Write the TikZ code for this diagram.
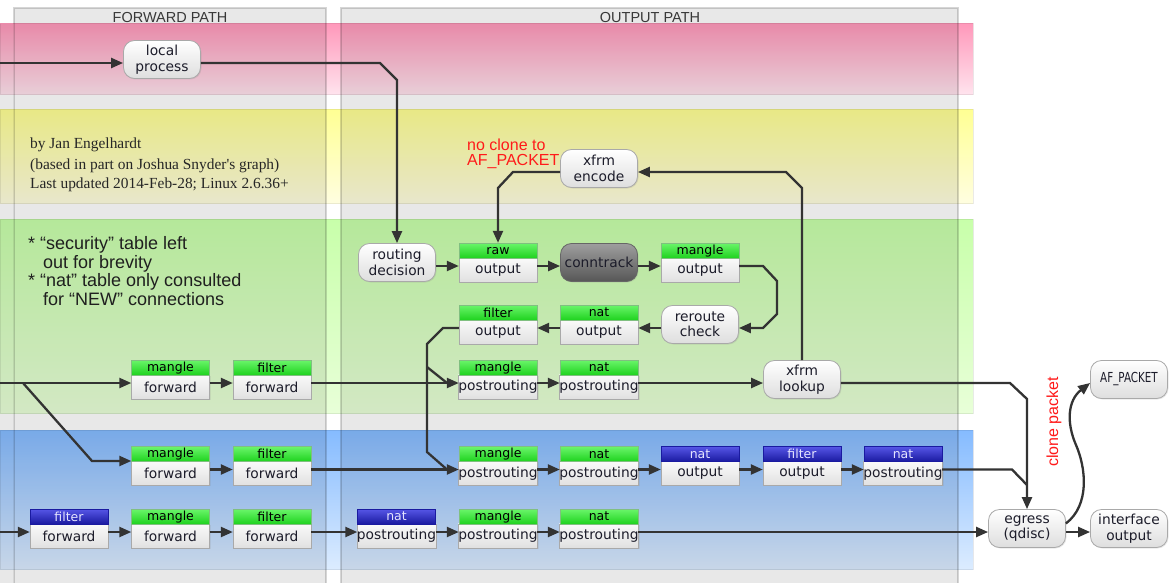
\documentclass[tikz,border=0pt]{standalone}
\usepackage{fontspec}
\usepackage{graphicx}
\setmainfont{DejaVu Sans}
\newfontfamily\notesans{Liberation Sans}
\newfontfamily\noteserif{Liberation Serif}
\usetikzlibrary{arrows.meta,shadows}
\pgfdeclarelayer{bands}
\pgfsetlayers{bands,main}

\definecolor{wire}{HTML}{333333}
\definecolor{ink}{HTML}{1C1C2A}
\definecolor{boxline}{HTML}{A9A9A9}
\definecolor{gtop}{HTML}{6AF56A}
\definecolor{gbot}{HTML}{1ED21E}
\definecolor{btop}{HTML}{5656E6}
\definecolor{bbot}{HTML}{1A1AA0}
\definecolor{notered}{HTML}{FF1A1A}
\definecolor{pinktop}{HTML}{FF99BB}
\definecolor{pinkbot}{HTML}{FFE4EE}
\definecolor{yeltop}{HTML}{FFFF94}
\definecolor{yelbot}{HTML}{FFFEE0}
\definecolor{grntop}{HTML}{C8FFAA}
\definecolor{grnbot}{HTML}{E8FFD8}
\definecolor{blutop}{HTML}{85BBFF}
\definecolor{blubot}{HTML}{DCECFF}

\tikzset{
  proc/.style={rounded corners=11pt, minimum width=77pt, minimum height=38pt,
    inner sep=0pt, align=center, top color=white, bottom color=black!13,
    draw=boxline, line width=0.8pt, text=ink,
    font=\fontsize{13.8}{15.5}\selectfont,
    drop shadow={shadow xshift=1pt, shadow yshift=-1pt, opacity=0.18}},
  darkproc/.style={proc, top color=black!38, bottom color=black!66, draw=black!60},
  hookframe/.style={minimum width=78pt, minimum height=39pt, inner sep=0pt, draw=none},
  hookhead/.style={minimum width=78pt, minimum height=15pt, inner sep=0pt,
    font=\fontsize{12.5}{13}\selectfont, line width=0.6pt},
  greenhead/.style={hookhead, top color=gtop, bottom color=gbot,
    draw=green!50!black!50, text=black},
  bluehead/.style={hookhead, top color=btop, bottom color=bbot,
    draw=bbot, text=white!90!blue},
  hookbody/.style={minimum width=78pt, minimum height=24pt, inner sep=0pt,
    top color=white!98!black, bottom color=black!12, draw=boxline,
    line width=0.6pt, text=ink, font=\fontsize{13.8}{15}\selectfont,
    drop shadow={shadow xshift=1pt, shadow yshift=-1pt, opacity=0.15}},
  flow/.style={draw=wire, line width=2.3pt, -{Triangle[length=12pt,width=10pt]}},
  wireline/.style={draw=wire, line width=2.3pt},
  ln/.style={yshift=-3.5pt},
  colbox/.style={fill=black, fill opacity=0.09, draw=black, draw opacity=0.16, line width=1.5pt},
  bandbox/.style={draw=black, draw opacity=0.08, line width=1pt},
  colhead/.style={font=\notesans\fontsize{14.5}{16}\selectfont, text=black!78, anchor=base},
  notetext/.style={font=\notesans\fontsize{18}{19}\selectfont, text=black!88, anchor=base west, inner sep=0pt},
  credit/.style={font=\noteserif\fontsize{15.4}{17}\selectfont, text=black!85, anchor=base west, inner sep=0pt},
  redtext/.style={font=\notesans\fontsize{16}{16}\selectfont, text=notered, inner sep=0pt},
}

% table/chain hook: name, x, y of the wire, table, chain, header style
\newcommand\hooknode[6]{%
  \node[hookframe] (#1) at (#2,#3-3.5) {};
  \node[hookbody, anchor=south] (#1-body) at (#1.south) {#5};
  \node[#6, anchor=north] (#1-head) at (#1.north) {#4};
}

\begin{document}
\begin{tikzpicture}[x=1pt,y=-1pt]
\useasboundingbox (0,0) rectangle (1172,583);

\begin{pgfonlayer}{bands}
  \fill[white] (0,0) rectangle (1172,583);
  % horizontal bands
  \path[bandbox, top color=pinktop, bottom color=pinkbot] (0,24) rectangle (973,95);
  \path[bandbox, top color=yeltop, bottom color=yelbot] (0,110) rectangle (973,203);
  \path[bandbox, top color=grntop, bottom color=grnbot] (0,219) rectangle (973,413);
  \path[bandbox, top color=blutop, bottom color=blubot] (0,430) rectangle (973,569);
  % vertical path columns
  \fill[black, fill opacity=0.09] (-20,24) rectangle (13.25,600);
  \path[colbox] (14,8) rectangle (326,600);
  \path[colbox] (341,8) rectangle (958,600);
\end{pgfonlayer}

\node[colhead] (fwdtitle) at (170,23) {FORWARD PATH};
\node[colhead] (outtitle) at (650,23) {OUTPUT PATH};

% credits
\node[credit] (cred1) at (30,149) {by Jan Engelhardt};
\node[credit] (cred2) at (30,169) {(based in part on Joshua Snyder's graph)};
\node[credit] (cred3) at (30,188) {Last updated 2014-Feb-28; Linux 2.6.36+};

% notes
\node[notetext] (note1) at (28,249) {* “security” table left};
\node[notetext] (note2) at (43,268) {out for brevity};
\node[notetext] (note3) at (28,286.5) {* “nat” table only consulted};
\node[notetext] (note4) at (43,305) {for “NEW” connections};

\node[redtext, anchor=base west] (noclone1) at (467,150) {no clone to};
\node[redtext, anchor=base west] (noclone2) at (467,165) {AF\_PACKET};
\node[redtext, rotate=90] (clonelbl) at (1054,422) {clone packet};

% processing steps
\node[proc] (lp) at (162,59.5) {local\\process};
\node[proc] (rd) at (397,262.5) {routing\\decision};
\node[proc] (xe) at (599,168.5) {xfrm\\encode};
\node[darkproc] (ct) at (599,262.5) {conntrack};
\node[proc] (rc) at (700,324.5) {reroute\\check};
\node[proc] (xl) at (802,379.5) {xfrm\\lookup};
\node[proc] (eg) at (1027,528.5) {egress\\(qdisc)};
\node[proc] (io) at (1129,528.5) {interface\\output};
\node[proc] (af) at (1129,379.5) {\scalebox{0.75}[1]{AF\_PACKET}};

% netfilter hooks
\hooknode{rawout}{498}{266}{raw}{output}{greenhead}
\hooknode{mangout}{700}{266}{mangle}{output}{greenhead}
\hooknode{filtout}{498}{328}{filter}{output}{greenhead}
\hooknode{natout}{599}{328}{nat}{output}{greenhead}

\hooknode{mfwd1}{170.5}{383}{mangle}{forward}{greenhead}
\hooknode{ffwd1}{272}{383}{filter}{forward}{greenhead}
\hooknode{mpost1}{498}{383}{mangle}{postrouting}{greenhead}
\hooknode{npost1}{599}{383}{nat}{postrouting}{greenhead}

\hooknode{mfwd2}{170.5}{469.5}{mangle}{forward}{greenhead}
\hooknode{ffwd2}{272}{469.5}{filter}{forward}{greenhead}
\hooknode{mpost2}{498}{469.5}{mangle}{postrouting}{greenhead}
\hooknode{npost2}{599}{469.5}{nat}{postrouting}{greenhead}
\hooknode{natout2}{700}{469.5}{nat}{output}{bluehead}
\hooknode{filtout2}{802}{469.5}{filter}{output}{bluehead}
\hooknode{npost2b}{903}{469.5}{nat}{postrouting}{bluehead}

\hooknode{bffwd}{69}{532}{filter}{forward}{bluehead}
\hooknode{mfwd3}{170.5}{532}{mangle}{forward}{greenhead}
\hooknode{ffwd3}{272}{532}{filter}{forward}{greenhead}
\hooknode{bnpost}{396.5}{532}{nat}{postrouting}{bluehead}
\hooknode{mpost3}{498}{532}{mangle}{postrouting}{greenhead}
\hooknode{npost3}{599}{532}{nat}{postrouting}{greenhead}

% free ends and junctions
\coordinate (inlp) at (-2,63);
\coordinate (inC) at (-2,383);
\coordinate (splitC) at (23,383);
\coordinate (inE) at (-2,532);
\coordinate (forkC) at (427,367);
\coordinate (mergeC) at (447,383);
\coordinate (mergeD) at (447,469.5);
\coordinate (mergeE) at (1027,485);

% locally generated packets
\draw[flow] (inlp) -- ([ln]lp.west);
\draw[flow] ([ln]lp.east) -- (380,63) -- (397,80) -- (rd.north);
\draw[flow] ([ln]rd.east) -- ([ln]rawout.west);
\draw[flow] ([ln]rawout.east) -- ([ln]ct.west);
\draw[flow] ([ln]ct.east) -- ([ln]mangout.west);
\draw[flow] ([ln]mangout.east) -- (763,266) -- (777,281) -- (777,314) -- (763,328) -- ([ln]rc.east);
\draw[flow] ([ln]rc.west) -- ([ln]natout.east);
\draw[flow] ([ln]natout.west) -- ([ln]filtout.east);
\draw[wireline] ([ln]filtout.west) -- (443,328) -- (427,344) -- (427,452) -- (mergeD);
\draw[wireline] (forkC) -- (mergeC);

% forwarded packets
\draw[flow] (inC) -- ([ln]mfwd1.west);
\draw[flow] (splitC) -- (92,461) -- ([yshift=5pt]mfwd2.west);
\draw[flow] ([ln]mfwd1.east) -- ([ln]ffwd1.west);
\draw[flow] ([ln]ffwd1.east) -- ([ln]mpost1.west);
\draw[flow] ([ln]mpost1.east) -- ([ln]npost1.west);
\draw[flow] ([ln]npost1.east) -- ([ln]xl.west);
\draw[flow] (xl.north) -- (802,188) -- (786,172) -- ([ln]xe.east);
\draw[flow] ([ln]xe.west) -- (513,172) -- (498,188) -- (rawout.north);
\draw[flow] ([ln]xl.east) -- (1010,383) -- (1027,399) -- (eg.north);

\draw[flow] ([ln]mfwd2.east) -- ([ln]ffwd2.west);
\draw[flow] ([ln]ffwd2.east) -- ([ln]mpost2.west);
\draw[flow] ([ln]mpost2.east) -- ([ln]npost2.west);
\draw[flow] ([ln]npost2.east) -- ([ln]natout2.west);
\draw[flow] ([ln]natout2.east) -- ([ln]filtout2.west);
\draw[flow] ([ln]filtout2.east) -- ([ln]npost2b.west);
\draw[wireline] ([ln]npost2b.east) -- (1012,469.5) -- (mergeE);

\draw[flow] (inE) -- ([ln]bffwd.west);
\draw[flow] ([ln]bffwd.east) -- ([ln]mfwd3.west);
\draw[flow] ([ln]mfwd3.east) -- ([ln]ffwd3.west);
\draw[flow] ([ln]ffwd3.east) -- ([ln]bnpost.west);
\draw[flow] ([ln]bnpost.east) -- ([ln]mpost3.west);
\draw[flow] ([ln]mpost3.east) -- ([ln]npost3.west);
\draw[flow] ([ln]npost3.east) -- ([ln]eg.west);

% leaving the host
\draw[flow] ([ln]eg.east) -- ([ln]io.west);
\draw[flow] ([yshift=5pt]eg.east) .. controls (1090,505) and (1086,468) .. (1076,445)
  .. controls (1066,422) and (1068,400) .. ([ln]af.west);
\end{tikzpicture}
\end{document}
